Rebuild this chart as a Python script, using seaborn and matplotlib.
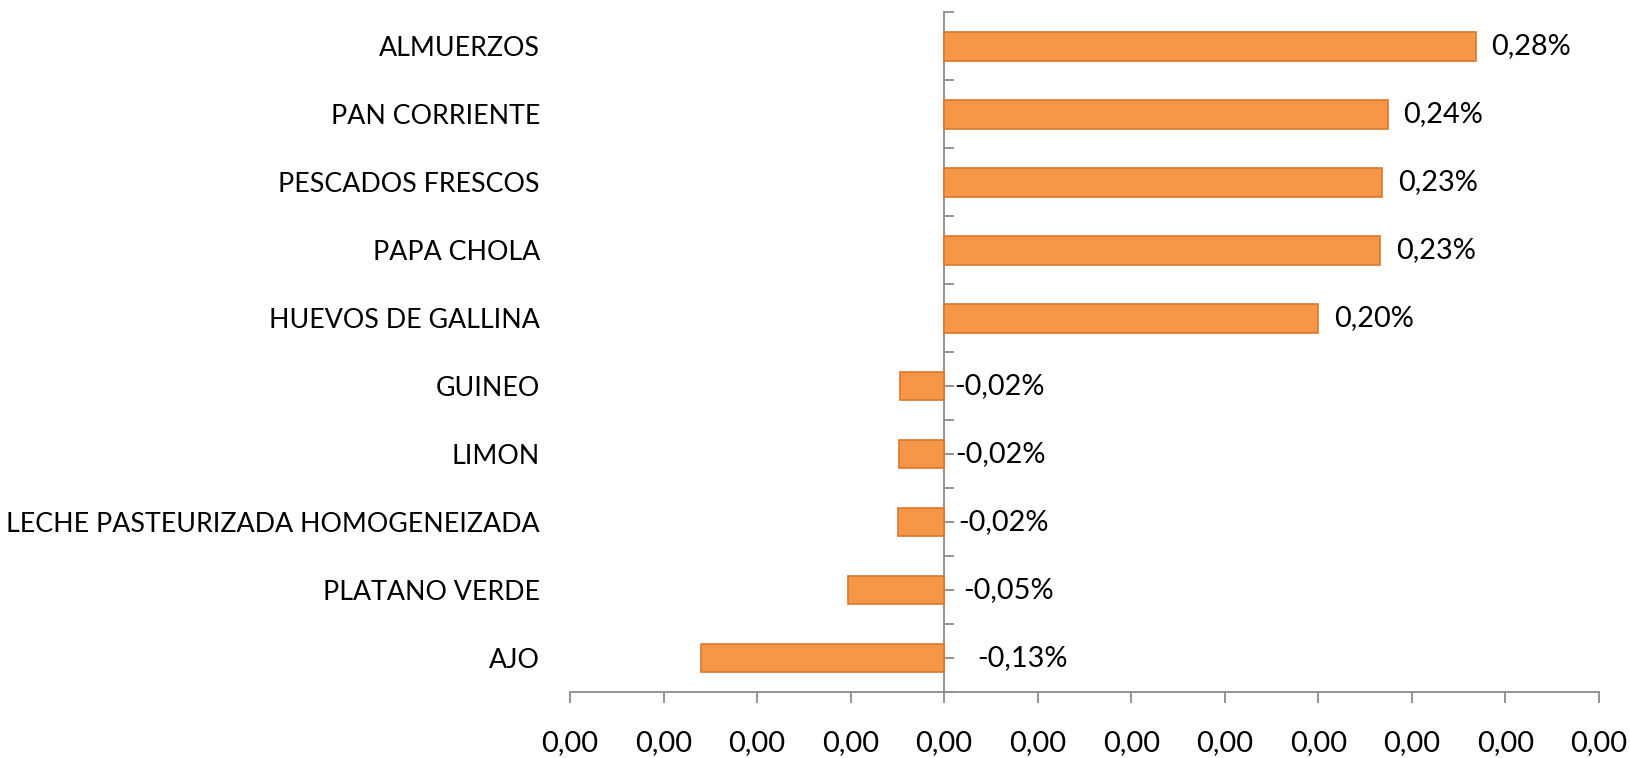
import matplotlib
matplotlib.use("Agg")
import matplotlib.pyplot as plt
from matplotlib.ticker import FuncFormatter, MultipleLocator
import numpy as np
import pandas as pd
import seaborn as sns

# data (fraction of change; labels show it in percent)
categories = [
    "ALMUERZOS",
    "PAN CORRIENTE",
    "PESCADOS FRESCOS",
    "PAPA CHOLA",
    "HUEVOS DE GALLINA",
    "GUINEO",
    "LIMON",
    "LECHE PASTEURIZADA HOMOGENEIZADA",
    "PLATANO VERDE",
    "AJO",
]
values = [0.00284, 0.00237, 0.00234, 0.00233, 0.00200,
          -0.000235, -0.000244, -0.000248, -0.000514, -0.0013]

# label offsets (pixels to the right of the bar end / zero line)
label_offsets = [16, 16, 16, 16, 16, 10, 11, 14, 19, 33]

BAR = "#F79646"
EDGE = "#D9782F"
AXIS = "#8C8C8C"
PX = 0.72  # points per pixel at dpi 100

sns.set_theme(style="white")
plt.rcParams["font.family"] = ["Lato", "DejaVu Sans"]

df = pd.DataFrame({"cat": categories, "val": values})

fig = plt.figure(figsize=(16.31, 7.58), dpi=100)
ax = fig.add_axes([570 / 1631, 1 - 692 / 758, (1599 - 570) / 1631, (692 - 12.5) / 758])

sns.barplot(data=df, x="val", y="cat", orient="h", color=BAR, edgecolor=EDGE,
            linewidth=1.2, width=0.42, saturation=1, ax=ax)

xmin, xmax = -0.002, 0.0035
ax.set_xlim(xmin, xmax)
ax.set_ylim(len(categories) - 0.5, -0.5)
ax.set_xlabel("")
ax.set_ylabel("")

ax.xaxis.set_major_locator(MultipleLocator(0.0005))
ax.xaxis.set_major_formatter(FuncFormatter(lambda v, p: f"{round(v, 2) + 0:.2f}".replace(".", ",")))
ax.tick_params(axis="x", bottom=True, direction="out", length=10.5 * PX, width=1.3, color=AXIS,
               labelsize=21, pad=28 * PX, labelcolor="black")
ax.tick_params(axis="y", left=False, length=0, labelsize=19.3, pad=30 * PX, labelcolor="black")

for side in ["top", "right", "left"]:
    ax.spines[side].set_visible(False)
ax.spines["bottom"].set_color(AXIS)
ax.spines["bottom"].set_linewidth(1.3)

# category axis sitting at zero
zero_frac = (0 - xmin) / (xmax - xmin)
sec = ax.secondary_yaxis(zero_frac)
sec.set_yticks(np.arange(-0.5, len(categories), 0.5))
sec.tick_params(axis="y", left=True, direction="in", length=10 * PX, width=1.3, color=AXIS,
                labelleft=False)
sec.spines["left"].set_color(AXIS)
sec.spines["left"].set_linewidth(1.3)

for i, (v, off) in enumerate(zip(values, label_offsets)):
    x0 = v if v > 0 else 0
    ax.annotate(f"{v * 100:.2f}%".replace(".", ","), xy=(x0, i),
                xytext=(off * PX, 0), textcoords="offset points",
                ha="left", va="center", fontsize=20.8, color="black")

fig.savefig("out.png", dpi=100, facecolor="white")
